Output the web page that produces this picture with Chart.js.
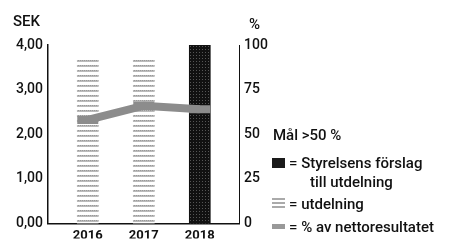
<!DOCTYPE html>
<html>
<head>
<meta charset="utf-8">
<script src="https://cdn.jsdelivr.net/npm/chart.js@4.4.0/dist/chart.umd.min.js"></script>
<style>
    body { margin: 0; background: #fff; }
    .wrap { position: relative; width: 469px; height: 242px; font-family: Roboto, sans-serif; color: #111; }
    canvas { position: absolute; left: 0; top: 0; }
    .lbl { position: absolute; font-size: 15px; font-weight: 500; line-height: 18px; white-space: nowrap; }
    .sw { position: absolute; width: 13px; }
</style>
</head>
<body>
<div class="wrap">
    <canvas id="divChart" width="469" height="242"></canvas>
    <div class="lbl" style="left:13px; top:12px;">SEK</div>
    <div class="lbl" style="left:249px; top:15px;">%</div>
    <div class="lbl" style="left:273px; top:126px;">Mål &gt;50 %</div>
    <div class="sw" style="left:272px; top:158px; height:10px; background:#1a1a1a;"></div>
    <div class="lbl" style="left:289px; top:154px;">= Styrelsens förslag</div>
    <div class="lbl" style="left:310px; top:173px;">till utdelning</div>
    <div class="sw" style="left:272px; top:198px; height:10px; background:repeating-linear-gradient(#aaa 0 2px, #fff 2px 4px);"></div>
    <div class="lbl" style="left:289px; top:195px;">= utdelning</div>
    <div class="sw" style="left:272px; top:224px; height:5px; background:#999;"></div>
    <div class="lbl" style="left:289px; top:218px;">= % av nettoresultatet</div>
</div>
<script>
const years = [2016, 2017, 2018];
const dividend = [3.70, 3.70, 4.00];
const payoutPct = [58, 66, 64];
const sekTicks = [0, 1, 2, 3, 4];
const pctTicks = [0, 25, 50, 75, 100];

// mönster för staplarna
function stripePattern() {
    const c = document.createElement('canvas');
    c.width = 2; c.height = 5;
    const g = c.getContext('2d');
    g.fillStyle = '#fff';
    g.fillRect(0, 0, 2, 5);
    g.fillStyle = '#999';
    g.fillRect(0, 0, 1, 1);
    g.fillStyle = '#bbb';
    g.fillRect(1, 0, 1, 1);
    g.fillRect(0, 1, 2, 1);
    return g.createPattern(c, 'repeat');
}

function darkPattern() {
    const c = document.createElement('canvas');
    c.width = 3; c.height = 3;
    const g = c.getContext('2d');
    g.fillStyle = '#111';
    g.fillRect(0, 0, 3, 3);
    g.fillStyle = '#555';
    g.fillRect(1, 1, 1, 1);
    return g.createPattern(c, 'repeat');
}

document.addEventListener('DOMContentLoaded', () => {
    const ctx = document.getElementById('divChart').getContext('2d');
    const stripes = stripePattern();
    const dark = darkPattern();

    new Chart(ctx, {
        type: 'bar',
        data: {
            datasets: [
                {
                    type: 'line',
                    label: '% av nettoresultatet',
                    data: years.map((y, i) => ({ x: y, y: payoutPct[i] })),
                    yAxisID: 'yPct',
                    borderColor: '#8c8c8c',
                    borderWidth: 8,
                    pointStyle: 'line',
                    pointRadius: 10.5,
                    pointBorderWidth: 8,
                    pointBorderColor: '#8c8c8c',
                    tension: 0,
                    order: 0
                },
                {
                    label: 'utdelning',
                    data: years.map((y, i) => ({ x: y, y: dividend[i] })),
                    yAxisID: 'ySek',
                    backgroundColor: years.map((y, i) => i === years.length - 1 ? dark : stripes),
                    barThickness: 21,
                    order: 1
                }
            ]
        },
        options: {
            responsive: false,
            animation: false,
            layout: { padding: { top: 45, right: 0, left: 0, bottom: 0 } },
            plugins: { legend: { display: false }, tooltip: { enabled: false } },
            scales: {
                x: {
                    type: 'linear',
                    offset: false,
                    min: 2015.29,
                    max: 2018.7,
                    afterBuildTicks: s => { s.ticks = years.map(v => ({ value: v })); },
                    afterFit: s => { s.height = 15; },
                    grid: { display: false, drawTicks: false },
                    border: { color: '#111', width: 1.5 },
                    ticks: {
                        padding: 4,
                        color: '#111',
                        font: { family: 'Roboto', size: 13, weight: 'bold' },
                        callback: v => String(v)
                    }
                },
                ySek: {
                    position: 'left',
                    min: 0,
                    max: 4,
                    afterBuildTicks: s => { s.ticks = sekTicks.map(v => ({ value: v })); },
                    afterFit: s => { s.width = 48; },
                    grid: { display: false, drawTicks: true, tickLength: 3, tickColor: '#111' },
                    border: { color: '#111', width: 1.5 },
                    ticks: {
                        padding: 2,
                        color: '#111',
                        font: { family: 'Roboto', size: 14, weight: '500' },
                        callback: v => v.toFixed(2).replace('.', ',')
                    }
                },
                yPct: {
                    position: 'right',
                    min: 0,
                    max: 100,
                    afterBuildTicks: s => { s.ticks = pctTicks.map(v => ({ value: v })); },
                    afterFit: s => { s.width = 230; },
                    grid: { display: false, drawTicks: true, tickLength: 3, tickColor: '#111' },
                    border: { color: '#111', width: 1 },
                    ticks: {
                        padding: 2,
                        color: '#111',
                        font: { family: 'Roboto', size: 14, weight: '500' }
                    }
                }
            }
        }
    });
});
</script>
</body>
</html>
